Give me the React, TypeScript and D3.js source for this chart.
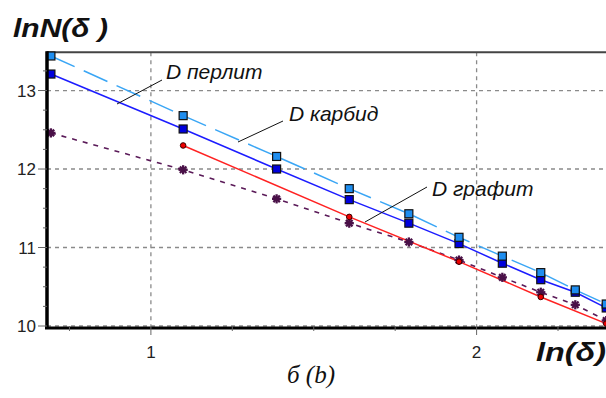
import React from "react";
import * as d3 from "d3";

const lnDelta = [0.693, 1.099, 1.386, 1.609, 1.792, 1.946, 2.079, 2.197, 2.303, 2.398];
const perlite = [13.44, 12.68, 12.16, 11.75, 11.43, 11.13, 10.89, 10.68, 10.46, 10.28];
const carbide = [13.21, 12.51, 12.0, 11.61, 11.31, 11.05, 10.8, 10.59, 10.43, 10.23];
const graphiteX = [1.099, 1.609, 1.946, 2.197, 2.398];
const graphite = [12.3, 11.39, 10.82, 10.37, 10.03];
const totalN = [12.46, 11.99, 11.62, 11.31, 11.07, 10.84, 10.62, 10.43, 10.27, 10.07];

const xTicks = [1, 2];
const xMinor = [0.75, 1.25, 1.5, 1.75, 2.25];
const yTicks = [10, 11, 12, 13];
const yMinor = [10.25, 10.5, 10.75, 11.25, 11.5, 11.75, 12.25, 12.5, 12.75, 13.25];

const labels = [
  { text: "D перлит", x: 166, y: 79, lx1: 117, ly1: 104, lx2: 162, ly2: 80 },
  { text: "D карбид", x: 289, y: 121, lx1: 238, ly1: 142, lx2: 283, ly2: 121 },
  { text: "D графит", x: 432, y: 196, lx1: 365, ly1: 222, lx2: 427, ly2: 187 },
];

export default function App() {
  const W = 606, H = 398;
  const x = d3.scaleLinear().domain([0.681, 2.4]).range([47, 47 + 1.719 * 325.7]);
  const y = d3.scaleLinear().domain([10, 13.487]).range([326, 52.3]);
  const line = d3
    .line<[number, number]>()
    .x((d) => x(d[0]))
    .y((d) => y(d[1]));
  const pts = (xs: number[], ys: number[]) => xs.map((v, i) => [v, ys[i]] as [number, number]);

  const pPerl = pts(lnDelta, perlite);
  const pCarb = pts(lnDelta, carbide);
  const pGraph = pts(graphiteX, graphite);
  const pTot = pts(lnDelta, totalN);

  const left = x(0.681);
  const top = y(13.487);
  const bottom = y(10);
  const right = W;

  const star = (cx: number, cy: number, k: number) => {
    const r = 4.6;
    const segs = [0, 45, 90, 135].map((a) => {
      const rad = (a * Math.PI) / 180;
      return (
        <line
          key={a}
          x1={cx - r * Math.cos(rad)}
          y1={cy - r * Math.sin(rad)}
          x2={cx + r * Math.cos(rad)}
          y2={cy + r * Math.sin(rad)}
          stroke="#4a1148"
          strokeWidth={2.3}
        />
      );
    });
    return <g key={k}>{segs}</g>;
  };

  return (
    <svg
      width={W}
      height={H}
      style={{ position: "absolute", left: 0, top: 0, background: "#fff" }}
      fontFamily="Arial, 'Liberation Sans', sans-serif"
    >
      {xTicks.map((t) => (
        <line key={"gx" + t} x1={x(t)} x2={x(t)} y1={top} y2={bottom} stroke="#8a8a8a" strokeWidth={1.3} strokeDasharray="4,4" />
      ))}
      {yTicks.map((t) => (
        <line key={"gy" + t} x1={left} x2={right} y1={y(t)} y2={y(t)} stroke="#8a8a8a" strokeWidth={1.3} strokeDasharray="4,4" />
      ))}
      <line x1={left} x2={right} y1={top} y2={top} stroke="#444" strokeWidth={2} />

      <path d={line(pTot) || ""} fill="none" stroke="#5a1a58" strokeWidth={1.6} strokeDasharray="5,6" />
      <path d={line(pGraph) || ""} fill="none" stroke="#ff2222" strokeWidth={1.5} />
      <path d={line(pCarb) || ""} fill="none" stroke="#1c1cff" strokeWidth={1.5} />
      <path d={line(pPerl) || ""} fill="none" stroke="#3aa6f5" strokeWidth={1.5} strokeDasharray="26,10" />

      {pTot.map((d, i) => star(x(d[0]), y(d[1]), i))}
      {pGraph.map((d, i) => (
        <circle key={"g" + i} cx={x(d[0])} cy={y(d[1])} r={2.8} fill="#ee0000" stroke="#3a0000" strokeWidth={1} />
      ))}
      {pCarb.map((d, i) => (
        <rect key={"c" + i} x={x(d[0]) - 4} y={y(d[1]) - 4} width={8} height={8} fill="#0000dd" stroke="#111" strokeWidth={1.2} />
      ))}
      {pPerl.map((d, i) => (
        <rect key={"p" + i} x={x(d[0]) - 4} y={y(d[1]) - 4} width={8} height={8} fill="#1e8ef0" stroke="#111" strokeWidth={1.2} />
      ))}

      <line x1={left} x2={left} y1={top - 1} y2={bottom + 3} stroke="#000" strokeWidth={3.5} />
      <line x1={left - 2} x2={right} y1={bottom + 2} y2={bottom + 2} stroke="#000" strokeWidth={3} />
      {yTicks.map((t) => (
        <g key={"yt" + t}>
          <line x1={left - 9} x2={left} y1={y(t)} y2={y(t)} stroke="#666" strokeWidth={1} />
          <text x={36} y={y(t) + 6} textAnchor="end" fontSize={17} fill="#222">
            {t}
          </text>
        </g>
      ))}
      {yMinor.filter((t) => y(t) > top).map((t) => (
        <line key={"ym" + t} x1={left - 4} x2={left} y1={y(t)} y2={y(t)} stroke="#666" strokeWidth={1} />
      ))}
      {xTicks.map((t) => (
        <g key={"xt" + t}>
          <line x1={x(t)} x2={x(t)} y1={bottom} y2={bottom + 9} stroke="#666" strokeWidth={1} />
          <text x={x(t)} y={358} textAnchor="middle" fontSize={17} fill="#222">
            {t}
          </text>
        </g>
      ))}
      {xMinor.filter((t) => x(t) > left && x(t) < right).map((t) => (
        <line key={"xm" + t} x1={x(t)} x2={x(t)} y1={bottom} y2={bottom + 5} stroke="#666" strokeWidth={1} />
      ))}

      {labels.map((l) => (
        <g key={l.text}>
          <line x1={l.lx1} y1={l.ly1} x2={l.lx2} y2={l.ly2} stroke="#111" strokeWidth={1} />
          <text x={l.x} y={l.y} fontSize={21} fontStyle="italic" fill="#111">
            {l.text}
          </text>
        </g>
      ))}

      <text x={13} y={37} fontSize={25} fontWeight="bold" fontStyle="italic" fill="#111" textLength={95} lengthAdjust="spacingAndGlyphs">
        lnN(δ )
      </text>
      <text x={536} y={361} fontSize={25} fontWeight="bold" fontStyle="italic" fill="#111" textLength={70} lengthAdjust="spacingAndGlyphs">
        ln(δ)
      </text>

      <text x={311} y={383} textAnchor="middle" fontSize={25} fontStyle="italic" fontFamily="'Liberation Serif', 'Times New Roman', serif" fill="#111">
        б (b)
      </text>
    </svg>
  );
}
